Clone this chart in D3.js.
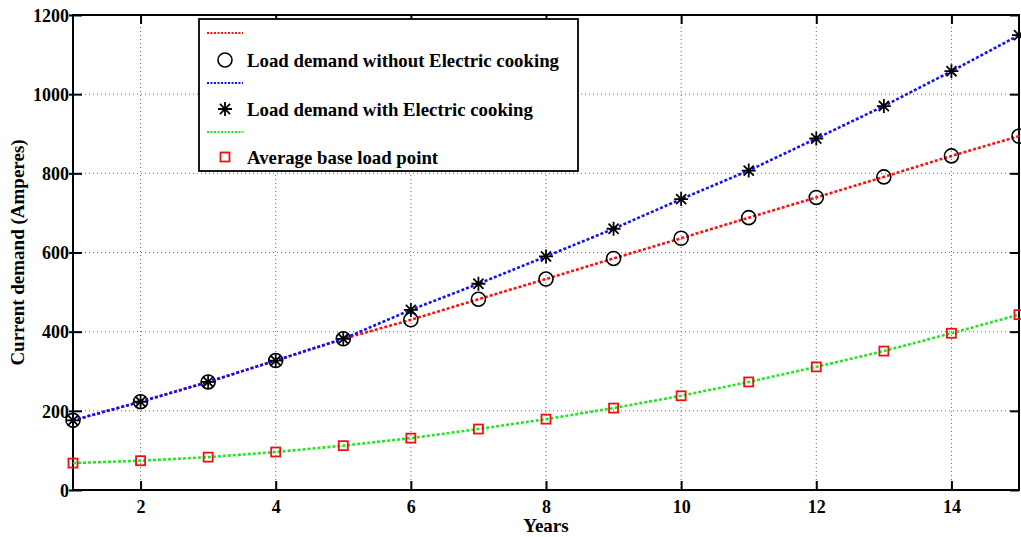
<!DOCTYPE html>
<html>
<head>
<meta charset="utf-8">
<script src="https://cdn.jsdelivr.net/npm/d3@7"></script>
<style>
  body { margin: 0; background: #fff; }
  svg text { font-family: "Liberation Serif", "Times New Roman", serif; font-weight: bold; fill: #000; }
</style>
</head>
<body>
<div id="chart"></div>
<script>
// Years on the x axis
const years = [1, 2, 3, 4, 5, 6, 7, 8, 9, 10, 11, 12, 13, 14, 15];

// Current demand (Amperes)
const withoutCooking = [176, 223, 273, 327, 382, 430, 482, 533, 585, 636, 688, 739, 791, 844, 894];
const withCooking    = [176, 223, 273, 327, 382, 455, 521, 590, 660, 735, 807, 888, 970, 1058, 1149];
const baseLoad       = [68, 74, 83, 96, 112, 131, 154, 179, 207, 238, 273, 311, 351, 396, 443];

const xTicks = [2, 4, 6, 8, 10, 12, 14];
const yTicks = [0, 200, 400, 600, 800, 1000, 1200];

const legendItems = [
  {type: 'line', color: '#ff1010', label: ''},
  {type: 'circle', label: 'Load demand without Electric cooking'},
  {type: 'line', color: '#1010ff', label: ''},
  {type: 'star', label: 'Load demand with Electric cooking'},
  {type: 'line', color: '#22e622', label: ''},
  {type: 'square', label: 'Average base load point'}
];

const config = {
  width: 1021,
  height: 537,
  margin: {top: 15, right: 2, bottom: 47, left: 73}
};

const svg = d3.select('#chart').append('svg')
    .attr('width', config.width)
    .attr('height', config.height);

const w = config.width - config.margin.left - config.margin.right;
const h = config.height - config.margin.top - config.margin.bottom;

const chart = svg.append('g')
    .attr('transform', `translate(${config.margin.left},${config.margin.top})`);

const x = d3.scaleLinear().domain([1, 15]).range([0, w]);
const y = d3.scaleLinear().domain([0, 1200]).range([h, 0]);

// Dotted grid
chart.append('g').selectAll('line')
    .data(xTicks)
  .join('line')
    .attr('x1', d => x(d)).attr('x2', d => x(d))
    .attr('y1', 0).attr('y2', h)
    .attr('stroke', '#666').attr('stroke-width', 1)
    .attr('stroke-dasharray', '1,3');

chart.append('g').selectAll('line')
    .data(yTicks.filter(d => d > 0 && d < 1200))
  .join('line')
    .attr('x1', 0).attr('x2', w)
    .attr('y1', d => y(d)).attr('y2', d => y(d))
    .attr('stroke', '#666').attr('stroke-width', 1)
    .attr('stroke-dasharray', '1,3');

// Axes with inward ticks on all four sides
const tickLen = 9;
const fmt = d3.format('d');
const bottomAxis = chart.append('g')
    .attr('transform', `translate(0,${h})`)
    .call(d3.axisBottom(x).tickValues(xTicks).tickSizeInner(-tickLen).tickSizeOuter(0).tickPadding(10).tickFormat(fmt));
const topAxis = chart.append('g')
    .call(d3.axisTop(x).tickValues(xTicks).tickSizeInner(-tickLen).tickSizeOuter(0).tickFormat(''));
const leftAxis = chart.append('g')
    .call(d3.axisLeft(y).tickValues(yTicks).tickSizeInner(-tickLen).tickSizeOuter(0).tickPadding(4).tickFormat(fmt));
const rightAxis = chart.append('g')
    .attr('transform', `translate(${w},0)`)
    .call(d3.axisRight(y).tickValues(yTicks).tickSizeInner(-tickLen).tickSizeOuter(0).tickFormat(''));

[bottomAxis, topAxis, leftAxis, rightAxis].forEach(a => {
  a.select('.domain').remove();
  a.selectAll('.tick line').attr('stroke', '#000').attr('stroke-width', 2);
  a.selectAll('text').style('font-size', '18px');
});
leftAxis.selectAll('.tick').each(function(d) {
  d3.select(this).append('line').attr('x1', -4).attr('x2', 0).attr('stroke', '#000').attr('stroke-width', 2);
});
leftAxis.selectAll('text').attr('dy', '0.35em');

// Box
chart.append('rect')
    .attr('width', w).attr('height', h)
    .attr('fill', 'none').attr('stroke', '#000').attr('stroke-width', 2);

const line = d3.line()
    .x((d, i) => x(years[i]))
    .y(d => y(d));

function drawLine(values, color) {
  chart.append('path')
      .datum(values)
      .attr('d', line)
      .attr('fill', 'none')
      .attr('stroke', color)
      .attr('stroke-width', 2.6)
      .attr('stroke-dasharray', '3,2');
}

function star(g, size) {
  const r = size / 2, d = r * 0.72;
  const path = `M${-r},0L${r},0M0,${-r}L0,${r}M${-d},${-d}L${d},${d}M${-d},${d}L${d},${-d}`;
  g.append('path').attr('d', path).attr('stroke', '#000').attr('stroke-width', 1.8).attr('fill', 'none');
}

function drawMarker(g, type) {
  if (type === 'circle') {
    g.append('circle').attr('r', 7).attr('fill', 'none').attr('stroke', '#000').attr('stroke-width', 1.6);
  } else if (type === 'star') {
    star(g, 14);
  } else if (type === 'square') {
    g.append('rect').attr('x', -4.5).attr('y', -4.5).attr('width', 9).attr('height', 9)
        .attr('fill', 'none').attr('stroke', '#ee1111').attr('stroke-width', 1.8);
  }
}

drawLine(withoutCooking, '#ff1010');
chart.append('g').selectAll('g')
    .data(withoutCooking)
  .join('g')
    .attr('transform', (d, i) => `translate(${x(years[i])},${y(d)})`)
    .each(function() { drawMarker(d3.select(this), 'circle'); });

drawLine(withCooking, '#1010ff');
chart.append('g').selectAll('g')
    .data(withCooking)
  .join('g')
    .attr('transform', (d, i) => `translate(${x(years[i])},${y(d)})`)
    .each(function() { drawMarker(d3.select(this), 'star'); });

drawLine(baseLoad, '#22e622');
chart.append('g').selectAll('g')
    .data(baseLoad)
  .join('g')
    .attr('transform', (d, i) => `translate(${x(years[i])},${y(d)})`)
    .each(function() { drawMarker(d3.select(this), 'square'); });

// Axis titles
svg.append('text')
    .attr('x', config.margin.left + w / 2)
    .attr('y', 532)
    .attr('text-anchor', 'middle')
    .style('font-size', '19px')
    .text('Years');

svg.append('text')
    .attr('transform', `translate(24,${config.margin.top + h / 2}) rotate(-90)`)
    .attr('text-anchor', 'middle')
    .style('font-size', '19px')
    .text('Current demand (Amperes)');

// Legend
const legend = svg.append('g').attr('transform', 'translate(199,19)');
legend.append('rect')
    .attr('width', 379).attr('height', 152)
    .attr('fill', '#fff').attr('stroke', '#000').attr('stroke-width', 1.8);

const rowY = [14, 41, 64, 90, 113, 138];
legendItems.forEach((item, i) => {
  const row = legend.append('g').attr('transform', `translate(0,${rowY[i]})`);
  if (item.type === 'line') {
    row.append('line')
        .attr('x1', 8).attr('x2', 44)
        .attr('stroke', item.color).attr('stroke-width', 2)
        .attr('stroke-dasharray', '2,1.5');
  } else {
    drawMarker(row.append('g').attr('transform', 'translate(26,0)'), item.type);
    row.append('text')
        .attr('x', 48).attr('dy', '0.35em')
        .style('font-size', '18.8px')
        .text(item.label);
  }
});
</script>
</body>
</html>
